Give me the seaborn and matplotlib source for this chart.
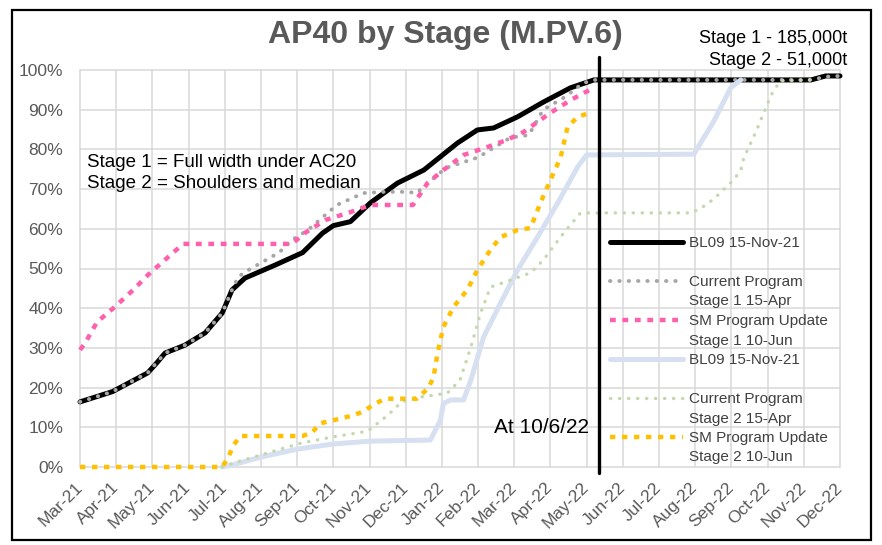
import matplotlib
matplotlib.use('Agg')
import matplotlib.pyplot as plt
from matplotlib.lines import Line2D
from matplotlib.patches import Rectangle
import seaborn as sns

W, H = 882, 545

months = ['Mar-21', 'Apr-21', 'May-21', 'Jun-21', 'Jul-21', 'Aug-21', 'Sep-21',
          'Oct-21', 'Nov-21', 'Dec-21', 'Jan-22', 'Feb-22', 'Mar-22', 'Apr-22',
          'May-22', 'Jun-22', 'Jul-22', 'Aug-22', 'Sep-22', 'Oct-22', 'Nov-22',
          'Dec-22']

# x = months since Mar-21, y = % complete
bl09_s1_x = [0, 0.9, 1.87, 2.1, 2.35, 2.9, 3.46, 3.93, 4.2, 4.56, 5.4, 6.15, 6.7,
             7.0, 7.47, 8.02, 8.77, 9.5, 10.43, 10.98, 11.43, 12.09, 12.8, 13.55,
             14.2, 20.2, 20.6, 21]
bl09_s1_y = [16.4, 19, 23.7, 26, 28.7, 30.7, 33.8, 38.8, 44.6, 47.6, 50.9, 54, 58.9,
             60.8, 61.8, 66.5, 71.5, 74.8, 81.6, 84.9, 85.4, 88.2, 91.9, 95.5,
             97.5, 97.5, 98.5, 98.5]

cur_s1_x = [0, 0.9, 1.87, 2.35, 2.9, 3.46, 3.93, 4.2, 4.37, 4.65, 5.5, 5.86, 6.3,
            6.78, 7.1, 7.83, 8.4, 9.04, 9.3, 10.1, 11.0, 11.9, 12.4, 12.8, 13.4,
            13.9, 14.2, 20.2, 20.6, 21]
cur_s1_y = [16.4, 19, 23.7, 28.7, 30.7, 33.8, 38.8, 44.6, 47.9, 49.6, 54, 57.2, 59.7,
            63.5, 66, 69, 69.3, 69.3, 69, 75.3, 78, 83, 83.6, 90, 93.2,
            96.7, 97.5, 97.5, 98.3, 98.5]

sm_s1_x = [0, 0.14, 0.47, 0.92, 1.47, 1.88, 2.4, 2.85, 5.86, 6.22, 6.78, 7.47, 8.02,
           9.2, 9.6, 10.04, 10.6, 11.26, 11.8, 12.26, 12.64, 13.0, 13.55, 14.15]
sm_s1_y = [29.5, 31.2, 36.5, 40, 44.6, 48.4, 52.6, 56.2, 56.2, 59, 62.2, 64.2, 66,
           66, 71.5, 74.8, 78.6, 80.6, 82.4, 84.4, 86.9, 89.2, 92.4, 95.3]

bl09_s2_x = [3.93, 4.2, 5.0, 6.0, 7.0, 8.0, 9.68, 9.96, 10.04, 10.24, 10.6, 10.8,
             11.15, 11.62, 12.09, 12.64, 13.2, 13.75, 14.0, 16.96, 17.5, 17.98, 18.26]
bl09_s2_y = [0, 0.5, 2.5, 4.5, 5.8, 6.5, 6.8, 11.8, 16, 16.9, 16.9, 21.9,
             32.7, 41.3, 49.6, 57.9, 66.5, 75.6, 78.6, 78.8, 86.9, 95.5, 97.5]

cur_s2_x = [3.93, 4.24, 5.17, 6.1, 7.0, 7.94, 8.5, 8.9, 9.4, 10.15, 10.5, 10.8, 11.07,
            11.34, 11.9, 12.45, 12.8, 13.36, 13.83, 16.9, 17.3, 17.57, 18.06, 18.26,
            18.34, 18.6, 18.73, 18.87, 19.1, 19.35, 20.2]
cur_s2_y = [0, 1, 3.5, 6, 7.6, 9, 13, 16.5, 17.6, 18.6, 21.9, 30.2, 38.8,
            45.3, 47.1, 48.9, 52.1, 58.9, 64, 64, 66, 68, 72.3, 74.8,
            77.8, 82.9, 85.6, 88.7, 93.7, 97.3, 97.5]

sm_s2_x = [0, 3.93, 4.1, 4.24, 4.43, 6.14, 6.4, 6.64, 7.1, 7.55, 7.83, 8.16, 8.44,
           9.3, 9.63, 9.77, 9.88, 10.04, 10.32, 10.7, 10.98, 11.34, 11.62, 12.09,
           12.45, 12.72, 13.0, 13.28, 13.47, 13.75, 14.15]
sm_s2_y = [0, 0, 2.5, 5.5, 7.8, 7.8, 8.6, 11, 12, 13, 14, 16, 17.2,
           17.2, 19.9, 22.7, 28.7, 35.3, 40.3, 44.6, 49.6, 54.7, 57.9, 59.7,
           60.2, 66.5, 72.3, 78, 85.6, 88.2, 89.4]

legend_labels = ['BL09 15-Nov-21', 'Current Program\nStage 1 15-Apr',
                 'SM Program Update\nStage 1 10-Jun', 'BL09 15-Nov-21',
                 'Current Program\nStage 2 15-Apr', 'SM Program Update\nStage 2 10-Jun']

cutoff_x = 14.33

series = [
    (bl09_s1_x, bl09_s1_y, dict(color='black', linewidth=3.6, linestyle='-')),
    (cur_s1_x, cur_s1_y, dict(color='#a6a6a6', linewidth=2.8, linestyle=(0, (0.1, 2.3)),
                              dash_capstyle='round')),
    (sm_s1_x, sm_s1_y, dict(color='#ff5fac', linewidth=3.2, linestyle=(0, (1.3, 1.5)))),
    (bl09_s2_x, bl09_s2_y, dict(color='#d6e0f0', linewidth=3.6, linestyle='-')),
    (cur_s2_x, cur_s2_y, dict(color='#c3d9ad', linewidth=2.4, linestyle=(0, (0.1, 2.6)),
                              dash_capstyle='round')),
    (sm_s2_x, sm_s2_y, dict(color='#ffc000', linewidth=3.2, linestyle=(0, (1.2, 1.5)))),
]

sns.set_style('white')
plt.rcParams['font.family'] = ['Liberation Sans', 'DejaVu Sans']

fig = plt.figure(figsize=(W / 100, H / 100), dpi=100)
ax = fig.add_axes([80 / W, 1 - 467 / H, 760 / W, 397 / H])

lines = []
for xs, ys, style in series:
    sns.lineplot(x=xs, y=ys, ax=ax, sort=False, estimator=None, **style)
    line = ax.lines[-1]
    line.set_clip_on(False)
    line.set_solid_capstyle('round')
    lines.append(line)

ax.axvline(cutoff_x, ymin=-0.016, ymax=1.033, color='black', lw=2.4, clip_on=False)

ax.set_xlim(0, len(months) - 1)
ax.set_ylim(0, 100)
ax.set_xticks(range(len(months)))
ax.set_xticklabels(months)
ax.set_yticks(range(0, 101, 10))
ax.set_yticklabels([f'{v}%' for v in range(0, 101, 10)])
ax.grid(True, color='#d9d9d9', linewidth=1.1)
ax.set_axisbelow(True)
for gl in ax.get_xgridlines() + ax.get_ygridlines():
    gl.set_clip_on(False)
for s in ax.spines.values():
    s.set_visible(False)
ax.tick_params(axis='both', length=0, labelsize=12.5, labelcolor='#595959')
ax.tick_params(axis='y', pad=12)
ax.tick_params(axis='x', pad=13)
plt.setp(ax.get_xticklabels(), rotation=45, ha='right', va='center',
         rotation_mode='anchor')
ax.set_xlabel('')
ax.set_ylabel('')

# legend: one row per text line, handle on the first line (as in the source)
blank = Line2D([], [], linestyle='none')
handles, labels = [], []
for line, lab in zip(lines, legend_labels):
    parts = lab.split('\n')
    if len(parts) == 1:
        parts.append(' ')
    handles += [line, blank]
    labels += parts
ax.legend(handles, labels, loc='upper left', bbox_to_anchor=(610 / W, 1 - 236 / H),
          bbox_transform=fig.transFigure, frameon=False, fontsize=11,
          handlelength=4.8, handletextpad=0.35, labelspacing=0.36, borderpad=0,
          borderaxespad=0, labelcolor='#404040')

fig.text(445 / W, 1 - 43 / H, 'AP40 by Stage (M.PV.6)', ha='center', va='baseline',
         fontsize=23, fontweight='bold', color='#595959')
fig.text(847 / W, 1 - 43 / H, 'Stage 1 - 185,000t', ha='right', va='baseline',
         fontsize=13, color='black')
fig.text(847 / W, 1 - 65 / H, 'Stage 2 - 51,000t', ha='right', va='baseline',
         fontsize=13, color='black')
fig.text(87 / W, 1 - 167 / H, 'Stage 1 = Full width under AC20', ha='left',
         va='baseline', fontsize=13.5, color='black')
fig.text(87 / W, 1 - 188 / H, 'Stage 2 = Shoulders and median', ha='left',
         va='baseline', fontsize=13.5, color='black')
fig.text(589 / W, 1 - 433 / H, 'At 10/6/22', ha='right', va='baseline',
         fontsize=15, color='black')

fig.patches.append(Rectangle((12 / W, 5 / H), 859 / W, 530 / H, transform=fig.transFigure,
                             fill=False, edgecolor='black', linewidth=1.6))

fig.savefig('out.png', dpi=100)
